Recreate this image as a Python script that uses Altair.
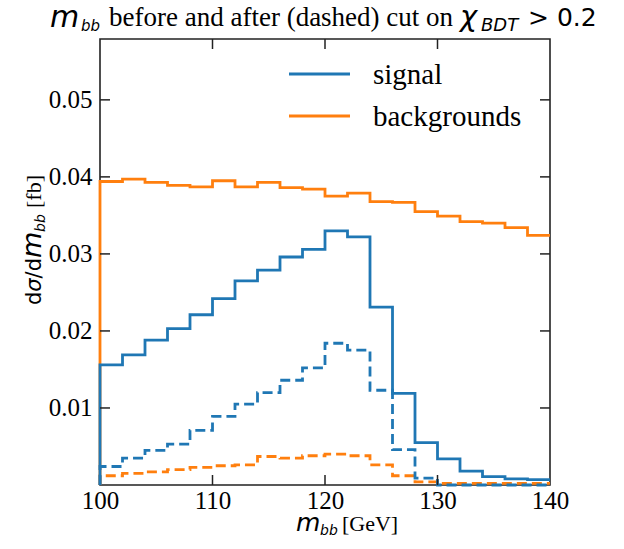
import altair as alt
import pandas as pd

# ---- data ----
edges = [100, 102, 104, 106, 108, 110, 112, 114, 116, 118, 120,
         122, 124, 126, 128, 130, 132, 134, 136, 138, 140]
signal_before = [0.0156, 0.0169, 0.0188, 0.0203, 0.0221, 0.0242, 0.0265, 0.0279, 0.0296, 0.0306,
                 0.0330, 0.0322, 0.0231, 0.0119, 0.0055, 0.0034, 0.0018, 0.0011, 0.0008, 0.0007]
signal_after = [0.0024, 0.0035, 0.0045, 0.0053, 0.0071, 0.0089, 0.0105, 0.0120, 0.0136, 0.0152,
                0.0184, 0.0175, 0.0123, 0.0046, 0.0009, 0.0000, 0.0000, 0.0000, 0.0000, 0.0000]
bkg_before = [0.0394, 0.0397, 0.0393, 0.0389, 0.0387, 0.0395, 0.0387, 0.0393, 0.0386, 0.0384,
              0.0375, 0.0379, 0.0368, 0.0367, 0.0355, 0.0349, 0.0342, 0.0340, 0.0334, 0.0324]
bkg_after = [0.0012, 0.0015, 0.0017, 0.0020, 0.0023, 0.0025, 0.0026, 0.0037, 0.0035, 0.0038,
             0.0040, 0.0038, 0.0026, 0.0012, 0.0004, 0.0002, 0.0002, 0.0002, 0.0002, 0.0002]
series_names = ["signal", "backgrounds"]
x_ticks = [100, 110, 120, 130, 140]
y_ticks = [0.01, 0.02, 0.03, 0.04, 0.05]

BLUE = "#1f77b4"
ORANGE = "#ff7f0e"
INK = "#222222"
W, H = 450, 446
SERIF = "Liberation Serif"
MATH = "DejaVu Sans"


def step_rows(values, series, cut):
    rows = [{"x": edges[0], "y": 0.0, "series": series, "cut": cut, "i": 0}]
    for k, v in enumerate(values):
        rows.append({"x": edges[k], "y": v, "series": series, "cut": cut, "i": k + 1})
    rows.append({"x": edges[-1], "y": values[-1], "series": series, "cut": cut, "i": len(values) + 1})
    return rows


rows = (step_rows(bkg_before, "backgrounds", "before") + step_rows(bkg_after, "backgrounds", "after")
        + step_rows(signal_before, "signal", "before") + step_rows(signal_after, "signal", "after"))
df = pd.DataFrame(rows)

xscale = alt.Scale(domain=[100, 140], nice=False, zero=False)
yscale = alt.Scale(domain=[0, 0.0579], nice=False, zero=True)

lines = alt.Chart(df).mark_line(interpolate="step-after", strokeWidth=2.8, clip=False).encode(
    x=alt.X("x:Q", scale=xscale,
            axis=alt.Axis(values=x_ticks, ticks=False, domain=False, grid=False, title=None,
                          labelFont=SERIF, labelFontSize=25, labelFontWeight="normal",
                          labelColor="black", labelPadding=3, labelFlush=False)),
    y=alt.Y("y:Q", scale=yscale,
            axis=alt.Axis(values=y_ticks, format=".2f", ticks=False, domain=False, grid=False, title=None,
                          labelFont=SERIF, labelFontSize=25, labelFontWeight="normal",
                          labelColor="black", labelPadding=8)),
    color=alt.Color("series:N", scale=alt.Scale(domain=series_names, range=[BLUE, ORANGE]), legend=None),
    strokeDash=alt.StrokeDash("cut:N", scale=alt.Scale(domain=["before", "after"], range=[[1, 0], [10, 5]]),
                              legend=None),
    detail="cut:N",
    order="i:Q",
)

xt = pd.DataFrame({"v": x_ticks[1:-1]})
yt = pd.DataFrame({"v": y_ticks})
tick_style = dict(color=INK, strokeWidth=1.5)
xticks_bottom = alt.Chart(xt).mark_rule(**tick_style).encode(
    x=alt.X("v:Q", scale=xscale), y=alt.value(H), y2=alt.value(H - 10))
xticks_top = alt.Chart(xt).mark_rule(**tick_style).encode(
    x=alt.X("v:Q", scale=xscale), y=alt.value(0), y2=alt.value(10))
yticks_left = alt.Chart(yt).mark_rule(**tick_style).encode(
    y=alt.Y("v:Q", scale=yscale), x=alt.value(0), x2=alt.value(10))
yticks_right = alt.Chart(yt).mark_rule(**tick_style).encode(
    y=alt.Y("v:Q", scale=yscale), x=alt.value(W - 10), x2=alt.value(W))

one = pd.DataFrame({"a": [0]})
OX, OY = 100, 39  # plot origin in page pixels


def txt(s, x, y, font, size, style="normal", angle=0, color="black"):
    kw = dict(text=s, font=font, fontSize=size, fontStyle=style, align="left",
              baseline="alphabetic", color=color)
    if angle:
        kw["angle"] = angle
    return alt.Chart(one).mark_text(**kw).encode(x=alt.value(x - OX), y=alt.value(y - OY))


texts = [
    # title
    txt("m", 50, 27, MATH, 30, "italic"),
    txt("bb", 81, 31, MATH, 15, "italic"),
    txt("before and after (dashed) cut on", 109, 26, SERIF, 27),
    txt("χ", 460, 26, MATH, 29, "italic"),
    txt("BDT", 481, 31, MATH, 18, "italic"),
    txt("> 0.2", 528, 26, MATH, 25),
    # x label
    txt("m", 296, 531, MATH, 25, "italic"),
    txt("bb", 320, 535, MATH, 14, "italic"),
    txt("[GeV]", 342, 531, SERIF, 22),
    # y label (rotated)
    txt("d", 41, 305, MATH, 21, angle=270),
    txt("σ", 41, 291.7, MATH, 21, "italic", angle=270),
    txt("/d", 41, 278.4, MATH, 21, angle=270),
    txt("m", 41, 258, MATH, 27, "italic", angle=270),
    txt("bb", 45, 232, MATH, 14, "italic", angle=270),
    txt("[fb]", 41, 208, SERIF, 22, angle=270),
    # legend labels
    txt(series_names[0], 373, 84, SERIF, 29),
    txt(series_names[1], 373, 126, SERIF, 29),
]

leg_sig = alt.Chart(one).mark_rule(color=BLUE, strokeWidth=2.8).encode(
    x=alt.value(289 - OX), x2=alt.value(350 - OX), y=alt.value(74 - OY))
leg_bkg = alt.Chart(one).mark_rule(color=ORANGE, strokeWidth=2.8).encode(
    x=alt.value(289 - OX), x2=alt.value(350 - OX), y=alt.value(116 - OY))

chart = alt.layer(lines, xticks_bottom, xticks_top, yticks_left, yticks_right,
                  leg_sig, leg_bkg, *texts).properties(
    width=W, height=H,
    autosize=alt.AutoSizeParams(type="none"),
    padding={"left": OX, "top": OY, "right": 624 - OX - W, "bottom": 549 - OY - H},
    background="white",
).configure_view(stroke=INK, strokeWidth=1.6).configure_axis(
    labelFont=SERIF, labelFontSize=25, labelFontWeight="normal")

chart.save("out.html", embed_options={"renderer": "svg", "actions": False})
